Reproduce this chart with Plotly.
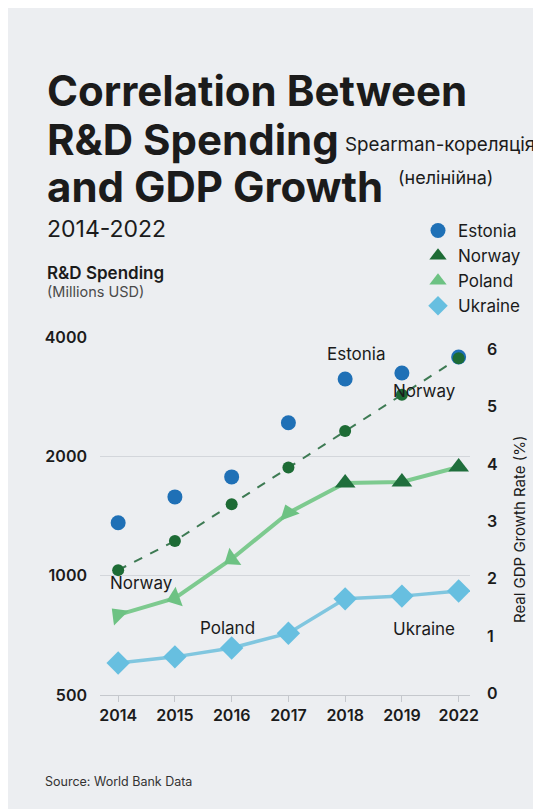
import math
import plotly.graph_objects as go

years = ["2014", "2015", "2016", "2017", "2018", "2019", "2022"]
estonia_rd = [1360, 1580, 1775, 2430, 3135, 3245, 3560]
norway_gdp = [2.15, 2.66, 3.30, 3.94, 4.58, 5.21, 5.85]
poland_rd = [796, 878, 1102, 1440, 1713, 1723, 1880]
ukraine_rd = [602, 624, 657, 716, 874, 888, 915]
left_ticks = [500, 1000, 2000, 4000]
right_ticks = [0, 1, 2, 3, 4, 5, 6]

FONT = "Inter"
DARK = "#1b1b1b"
BG = "#eceef1"

OFF = 8  # page body margin
# plot area in page pixels
L, R, T, B = 100, 470, 337, 695
W, H = 541 - OFF, 809 - OFF


def px(x):
    return (x - L) / (R - L)


def py(y):
    return (B - y) / (B - T)


fig = go.Figure()

poland_colors = ["#6dc283"] * 4 + ["#1f6e3c"] * 3
poland_angles = [315, 250, 235, 340, 0, 0, 0]

fig.add_trace(go.Scatter(
    x=years, y=ukraine_rd, mode="lines+markers", showlegend=False,
    line=dict(color="#80c6df", width=3.5),
    marker=dict(symbol="diamond", size=18, color="#67bfe0"),
))
fig.add_trace(go.Scatter(
    x=years, y=poland_rd, mode="lines+markers", showlegend=False,
    line=dict(color="#7dca8f", width=4),
    marker=dict(symbol="triangle-up", size=18, color=poland_colors, angle=poland_angles),
))
fig.add_trace(go.Scatter(
    x=years, y=norway_gdp, yaxis="y2", mode="lines+markers", showlegend=False,
    line=dict(color="#3d7a53", width=2, dash="dash"),
    marker=dict(symbol="circle", size=12, color="#1d6b35"),
))
fig.add_trace(go.Scatter(
    x=years, y=estonia_rd, mode="markers", showlegend=False,
    marker=dict(symbol="circle", size=15, color="#1f70b6"),
))

legend_items = [
    ("Estonia", "circle", "#1f70b6"),
    ("Norway", "triangle-up", "#1d6b35"),
    ("Poland", "triangle-up", "#6dc283"),
    ("Ukraine", "diamond", "#67bfe0"),
]
for i, (name, sym, col) in enumerate(legend_items):
    fig.add_trace(go.Scatter(
        x=[None], y=[None], mode="markers", name=name, legendgroup=f"g{i}",
        marker=dict(symbol=sym, size=15, color=col),
    ))

fig.add_shape(type="line", xref="paper", yref="y", x0=0, x1=1,
              y0=math.log10(1000), y1=math.log10(1000),
              line=dict(color="#a3a6aa", width=1.2), layer="below")

ann = []


def text(x, y, s, size, color=DARK, xanchor="left", weight=400, angle=0):
    ann.append(dict(x=px(x), y=py(y), xref="paper", yref="paper", text=s,
                    showarrow=False, xanchor=xanchor, yanchor="middle", textangle=angle,
                    font=dict(family=FONT, size=size, color=color, weight=weight)))


text(45, 91, "Correlation Between", 42, weight=700)
text(45, 139, "R&D Spending", 42, weight=700)
text(45, 186, "and GDP Growth", 42, weight=700)
text(343, 145, "Spearman-кореляція", 18.8)
text(396, 177, "(нелінійна)", 18)
text(45, 229, "2014-2022", 23)
text(45, 273, "R&D Spending", 17, weight=600)
text(45, 291, "(Millions USD)", 14.5, color="#4a4a4a")
text(519, 530, "Real GDP Growth Rate (%)", 15, xanchor="center", angle=-90)
text(356, 354, "Estonia", 17, xanchor="center")
text(424, 391, "Norway", 17, xanchor="center")
text(141, 583, "Norway", 17, xanchor="center")
text(227, 628, "Poland", 17, xanchor="center")
text(424, 629, "Ukraine", 17, xanchor="center")
text(43, 781, "Source: World Bank Data", 12.5, color="#333333")

fig.update_layout(
    width=W, height=H,
    margin=dict(l=L - OFF, r=W - (R - OFF), t=T - OFF, b=H - (B - OFF)),
    paper_bgcolor=BG, plot_bgcolor=BG,
    font=dict(family=FONT, color=DARK),
    annotations=ann,
    showlegend=True,
    legend=dict(x=px(418), y=py(213), xanchor="left", yanchor="top",
                font=dict(family=FONT, size=17, color=DARK),
                tracegroupgap=0, bgcolor="rgba(0,0,0,0)", itemclick=False),
    xaxis=dict(type="category", categoryorder="array", categoryarray=years,
               range=[-0.32, 6.2], showgrid=False, showline=True,
               linecolor="#c5c8cd", linewidth=1, ticks="outside", ticklen=6,
               tickcolor="#c5c8cd", tickfont=dict(size=16, weight=600, color=DARK),
               zeroline=False),
    yaxis=dict(type="log", range=[math.log10(500), math.log10(4000)],
               tickvals=left_ticks, ticktext=[str(v) for v in left_ticks],
               showgrid=True, gridcolor="#d3d6db", gridwidth=1, zeroline=False,
               tickfont=dict(size=16, weight=600, color=DARK), ticklabelstandoff=12),
    yaxis2=dict(overlaying="y", side="right", range=[-0.03, 6.22],
                tickvals=right_ticks, showgrid=False, zeroline=False,
                tickfont=dict(size=16, weight=600, color=DARK), ticklabelstandoff=16),
)

fig.write_html("out.html")
